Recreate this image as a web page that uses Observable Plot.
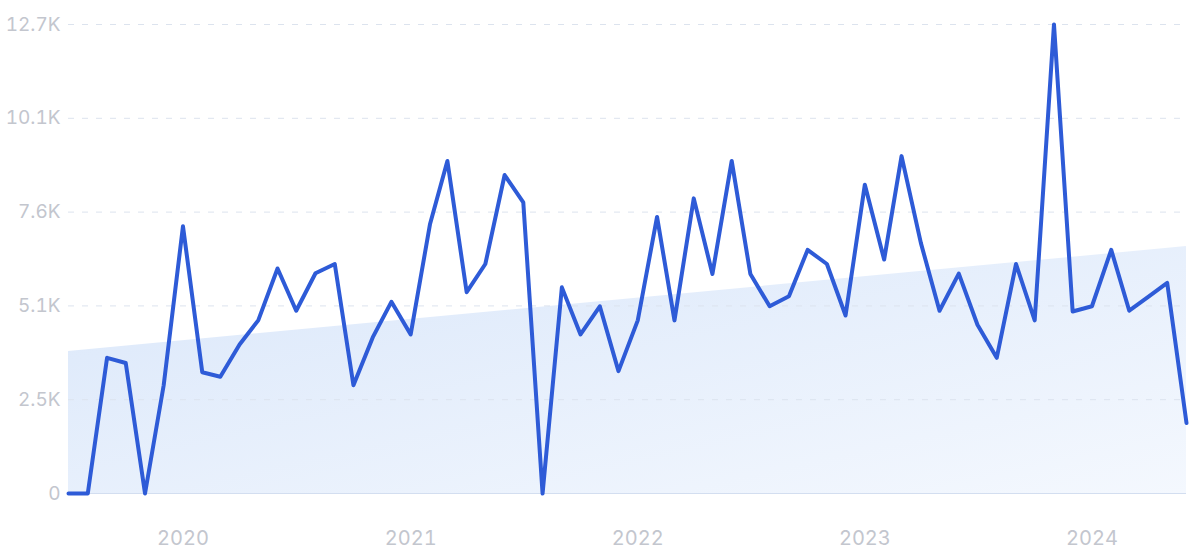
<!DOCTYPE html>
<html>
<head>
<meta charset="utf-8">
<script src="https://cdn.jsdelivr.net/npm/d3@7"></script>
<script src="https://cdn.jsdelivr.net/npm/@observablehq/plot@0.6"></script>
<style>
  html, body { margin: 0; padding: 0; background: #ffffff; }
  #chart svg { display: block; }
</style>
</head>
<body>
<div id="chart"></div>
<script>
const months = [
  "2019-07","2019-08","2019-09","2019-10","2019-11","2019-12",
  "2020-01","2020-02","2020-03","2020-04","2020-05","2020-06","2020-07","2020-08","2020-09","2020-10","2020-11","2020-12",
  "2021-01","2021-02","2021-03","2021-04","2021-05","2021-06","2021-07","2021-08","2021-09","2021-10","2021-11","2021-12",
  "2022-01","2022-02","2022-03","2022-04","2022-05","2022-06","2022-07","2022-08","2022-09","2022-10","2022-11","2022-12",
  "2023-01","2023-02","2023-03","2023-04","2023-05","2023-06","2023-07","2023-08","2023-09","2023-10","2023-11","2023-12",
  "2024-01","2024-02","2024-03","2024-04","2024-05","2024-06"
];
const values = [
  0, 0, 3660, 3520, 0, 2920,
  7210, 3270, 3150, 4020, 4670, 6070, 4930, 5940, 6190, 2920, 4210, 5170,
  4290, 7260, 8970, 5430, 6190, 8590, 7850, 0, 5560, 4290, 5050, 3300,
  4670, 7460, 4670, 7960, 5920, 8970, 5920, 5050, 5320, 6570, 6190, 4800,
  8330, 6310, 9100, 6760, 4930, 5930, 4550, 3660, 6190, 4670, 12650, 4910,
  5050, 6570, 4930, 5310, 5680, 1900
];
const trendMonths = ["2019-07", "2024-06"];
const trendValues = [3830, 6660];
const yTickValues = [0, 2530, 5060, 7590, 10120, 12650];
const yTickLabels = ["0", "2.5K", "5.1K", "7.6K", "10.1K", "12.7K"];
const xTickMonths = ["2020-01", "2021-01", "2022-01", "2023-01", "2024-01"];
const xTickLabels = ["2020", "2021", "2022", "2023", "2024"];

const parse = d3.utcParse("%Y-%m");
const data = months.map((m, i) => ({date: parse(m), value: values[i]}));
const trend = trendMonths.map((m, i) => ({date: parse(m), value: trendValues[i]}));
const xTicks = xTickMonths.map(parse);
const yLabelMap = new Map(yTickValues.map((v, i) => [v, yTickLabels[i]]));
const xLabelMap = new Map(xTicks.map((d, i) => [+d, xTickLabels[i]]));

const defs = () => {
  const g = d3.create("svg:defs");
  const lg = g.append("linearGradient")
    .attr("id", "trendGrad")
    .attr("x1", "0").attr("y1", "0").attr("x2", "1").attr("y2", "1");
  lg.append("stop").attr("offset", "0%").attr("stop-color", "#dae7fa");
  lg.append("stop").attr("offset", "100%").attr("stop-color", "#f4f8fe");
  return g.node();
};

const chart = Plot.plot({
  width: 1200,
  height: 559,
  marginLeft: 68,
  marginRight: 14,
  marginTop: 24,
  marginBottom: 66,
  style: {fontFamily: "Inter, 'Noto Sans', sans-serif", background: "#ffffff"},
  x: {type: "utc", domain: [parse(months[0]), parse(months[months.length - 1])]},
  y: {domain: [0, 12650]},
  marks: [
    defs,
    Plot.areaY(trend, {x: "date", y: "value", fill: "url(#trendGrad)"}),
    Plot.ruleY(yTickValues.filter(v => v > 0), {stroke: "#dce3ee", strokeWidth: 1, strokeDasharray: "6,8", insetRight: 3}),
    Plot.ruleY([0], {stroke: "#d3def0", strokeWidth: 1.2}),
    Plot.axisY({
      ticks: yTickValues, tickSize: 0, tickPadding: 8,
      tickFormat: d => yLabelMap.get(d), label: null,
      fontSize: 19, color: "#c3c6ce"
    }),
    Plot.axisX({
      ticks: xTicks, tickSize: 0, tickPadding: 37,
      tickFormat: d => xLabelMap.get(+d), label: null,
      fontSize: 20, color: "#c3c6ce"
    }),
    Plot.lineY(data, {x: "date", y: "value", stroke: "#2e5bd7", strokeWidth: 4, strokeLinejoin: "round", strokeLinecap: "round"})
  ]
});
document.getElementById("chart").appendChild(chart);
</script>
</body>
</html>
